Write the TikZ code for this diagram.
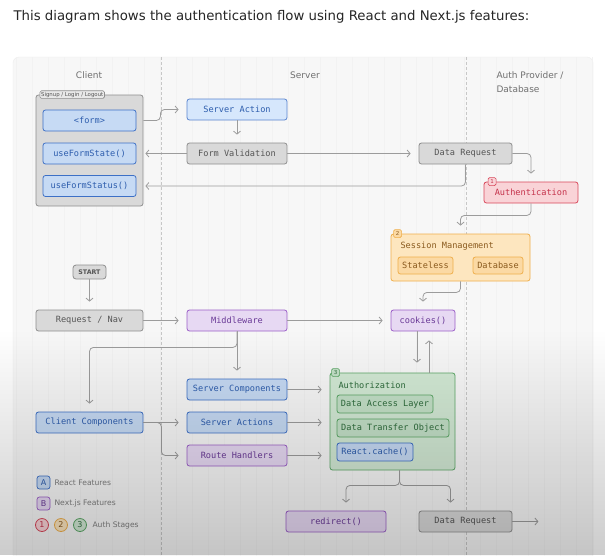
\documentclass[tikz,border=0pt]{standalone}
\usepackage{fontspec}
\setmainfont{DejaVu Sans}
\newfontfamily\codefont{DejaVu Sans Mono}
\usetikzlibrary{arrows.meta}
\usetikzlibrary{fadings}

\definecolor{lineg}{HTML}{9C9C9C}
\definecolor{grayfill}{HTML}{D9D9D9}
\definecolor{grayline}{HTML}{8E8E8E}
\definecolor{graytext}{HTML}{555555}
\definecolor{bluefill}{HTML}{C6DAF4}
\definecolor{bluelite}{HTML}{D6E7FC}
\definecolor{blueline}{HTML}{3D70C6}
\definecolor{bluetext}{HTML}{2D5DAD}
\definecolor{purpfill}{HTML}{E7D9F3}
\definecolor{purpline}{HTML}{9B5EC7}
\definecolor{purptext}{HTML}{6A3A97}
\definecolor{redfill}{HTML}{F9D3D7}
\definecolor{redline}{HTML}{D8485B}
\definecolor{redtext}{HTML}{C4314A}
\definecolor{orfill}{HTML}{FDE6BF}
\definecolor{orinner}{HTML}{FBD9A4}
\definecolor{orline}{HTML}{EFAF4C}
\definecolor{ortext}{HTML}{8A5A1E}
\definecolor{grfill}{HTML}{D2E9D4}
\definecolor{grinner}{HTML}{C3E0C7}
\definecolor{grline}{HTML}{5BA766}
\definecolor{grtext}{HTML}{2D6B3B}
\definecolor{headc}{HTML}{707070}

\tikzfading[name=fadedown, top color=transparent!100, bottom color=transparent!0]

\tikzset{
  box/.style={draw, rounded corners=2.5pt, line width=0.8pt, inner sep=0pt,
    minimum height=21pt, font=\codefont\fontsize{8.6}{10}\selectfont},
  graybox/.style={box, fill=grayfill, draw=grayline, text=graytext},
  bluebox/.style={box, fill=bluefill, draw=blueline, text=bluetext},
  litebox/.style={box, fill=bluelite, draw=blueline!85, text=bluetext},
  purpbox/.style={box, fill=purpfill, draw=purpline, text=purptext},
  redbox/.style={box, fill=redfill, draw=redline, text=redtext},
  orbox/.style={box, fill=orinner, draw=orline, text=ortext, minimum height=17pt},
  grbox/.style={box, fill=grinner, draw=grline, text=grtext, minimum height=18pt},
  badge/.style={draw, rounded corners=1.5pt, line width=0.7pt, inner sep=0pt,
    minimum size=8pt, font=\fontsize{5.5}{6}\selectfont},
  header/.style={text=headc, font=\fontsize{9}{11}\selectfont},
  legend/.style={anchor=west, text=headc!90, font=\fontsize{7.6}{9}\selectfont},
  conn/.style={draw=lineg, line width=0.8pt, rounded corners=4pt,
    -{Straight Barb[length=3pt,width=7pt]}, shorten >=8pt},
}

\begin{document}
\begin{tikzpicture}[x=1pt, y=-1pt]
        \useasboundingbox (0,0) rectangle (605,555);
        \fill[white] (0,0) rectangle (605,555);

        \node (title) [anchor=west, text=black!85, font=\fontsize{13.3}{15}\selectfont] at (10,17)
            {This diagram shows the authentication flow using React and Next.js features:};

        % panel with faint grid
        \begin{scope}
            \clip (0,0) rectangle (605,555);
            \draw[fill=black!3, draw=black!7, rounded corners=6pt] (13,57) rectangle (593,580);
            \clip (13,57) rectangle (593,555);
            \draw[black!5, line width=0.3pt, step=16] (13,57) grid (593,560);
            \draw[black!22, line width=0.7pt, dash pattern=on 3pt off 2pt] (161,57) -- (161,555);
            \draw[black!22, line width=0.7pt, dash pattern=on 3pt off 2pt] (466,57) -- (466,555);
        \end{scope}

        \node (hclient) [header] at (89,75) {Client};
        \node (hserver) [header] at (305,75) {Server};
        \node (hauth) [header, anchor=west] at (493,75) {Auth Provider /};
        \node (hdb) [header, anchor=west] at (493,89) {Database};

        % client group
        \node (group) [graybox, minimum width=107pt, minimum height=111pt] at (89.5,150.5) {};
        \node (tag) [draw=grayline, fill=grayfill!60, rounded corners=1.5pt, line width=0.6pt, inner sep=1.2pt,
            anchor=west, text=graytext, font=\fontsize{5.4}{6}\selectfont] at ([xshift=4pt]group.north west) {Signup / Login / Logout};
        \node (form) [bluebox, minimum width=93pt] at (89.5,120.5) {<form>};
        \node (fstate) [bluebox, minimum width=93pt] at (89.5,153.5) {useFormState()};
        \node (fstatus) [bluebox, minimum width=93pt] at (89.5,186) {useFormStatus()};

        % server, top
        \node (sact) [litebox, minimum width=100pt] at (237,109.5) {Server Action};
        \node (fval) [graybox, minimum width=100pt] at (237,153.5) {Form Validation};
        \node (dreq) [graybox, minimum width=93pt] at (465.5,153.5) {Data Request};

        % auth provider
        \node (authn) [redbox, minimum width=94pt] at (531,192.5) {Authentication};
        \node (b1) [badge, fill=redfill, draw=redline, text=redtext] at ([xshift=8.5pt]authn.north west) {1};

        \node (sess) [box, fill=orfill, draw=orline, minimum width=139pt, minimum height=47pt] at (460.5,257.5) {};
        \node (b2) [badge, fill=orinner, draw=orline, text=ortext] at ([xshift=7pt]sess.north west) {2};
        \node (sesst) [anchor=west, text=ortext, font=\codefont\fontsize{8.6}{10}\selectfont] at (397,246) {Session Management};
        \node (stateless) [orbox, minimum width=55pt] at (425.5,265.5) {Stateless};
        \node (sdb) [orbox, minimum width=50pt] at (498,265.5) {Database};

        \node (cookies) [purpbox, minimum width=64pt] at (423,320.5) {cookies()};

        % request flow
        \node (start) [graybox, minimum width=33pt, minimum height=14pt, rounded corners=3pt,
            font=\fontsize{6.3}{8}\selectfont\bfseries] at (89.5,272) {START};
        \node (reqnav) [graybox, minimum width=107pt] at (89.5,320.5) {Request / Nav};
        \node (mware) [purpbox, minimum width=100pt] at (237,320.5) {Middleware};

        \node (scomp) [bluebox, minimum width=100pt] at (237,389.5) {Server Components};
        \node (sacts) [bluebox, minimum width=100pt] at (237,422.5) {Server Actions};
        \node (rhand) [purpbox, minimum width=100pt] at (237,455.5) {Route Handlers};
        \node (ccomp) [bluebox, minimum width=107pt] at (89.5,422.5) {Client Components};

        % authorization
        \node (authz) [box, fill=grfill, draw=grline, minimum width=125pt, minimum height=97pt] at (392.5,421.5) {};
        \node (b3) [badge, fill=grinner, draw=grline, text=grtext] at ([xshift=6pt]authz.north west) {3};
        \node (authzt) [anchor=west, text=grtext, font=\codefont\fontsize{8.6}{10}\selectfont] at (335,385) {Authorization};
        \node (dal) [grbox, minimum width=96pt] at (385,404) {Data Access Layer};
        \node (dto) [grbox, minimum width=112pt] at (393,428) {Data Transfer Object};
        \node (rcache) [bluebox, minimum width=76pt, minimum height=18pt] at (375,452) {React.cache()};

        \node (redir) [purpbox, minimum width=100pt] at (336,521.5) {redirect()};
        \node (dreqb) [graybox, minimum width=93pt] at (465.5,521.5) {Data Request};

        % legend
        \node (la) [badge, minimum size=13pt, rounded corners=2.5pt, fill=bluefill, draw=blueline, text=bluetext,
            font=\fontsize{8}{9}\selectfont] at (43.5,482.5) {A};
        \node (lat) [legend] at (51,482.5) {React Features};
        \node (lb) [badge, minimum size=13pt, rounded corners=2.5pt, fill=purpfill, draw=purpline, text=purptext,
            font=\fontsize{8}{9}\selectfont] at (43.5,503.5) {B};
        \node (lbt) [legend] at (51,503.5) {Next.js Features};
        \node (l1) [circle, draw=redline, fill=redfill, line width=0.8pt, inner sep=0pt, minimum size=13pt,
            text=redtext, font=\fontsize{8}{9}\selectfont] at (42,525) {1};
        \node (l2) [circle, draw=orline, fill=orfill, line width=0.8pt, inner sep=0pt, minimum size=13pt,
            text=ortext, font=\fontsize{8}{9}\selectfont] at (61,525) {2};
        \node (l3) [circle, draw=grline, fill=grfill, line width=0.8pt, inner sep=0pt, minimum size=13pt,
            text=grtext, font=\fontsize{8}{9}\selectfont] at (80,525) {3};
        \node (lst) [legend] at (89,525) {Auth Stages};

        % connectors
        \draw[conn] (form -| group.east) -- ++(17,0) |- (sact.west);
        \draw[conn] (sact) -- (fval);
        \draw[conn, shorten >=2pt] (fval.west) -- (fstate -| group.east);
        \draw[conn] (fval) -- (dreq);
        \draw[conn, shorten >=2pt] (dreq.south) |- (fstatus -| group.east);
        \draw[conn] (dreq.east) -| (authn.north);
        \draw[conn] (authn.south) -- ++(0,12) -| (sess.north);
        \draw[conn] (sess.south) -- ++(0,11) -| (cookies.north);

        \draw[conn] (start) -- (reqnav);
        \draw[conn] (reqnav) -- (mware);
        \draw[conn] (mware) -- (cookies);
        \draw[conn, shorten >=10pt] ([xshift=-6pt]cookies.south) -- ([xshift=-6pt]cookies.south |- authz.north);
        \draw[conn, shorten >=9pt] ([xshift=6pt]cookies.south |- authz.north) -- ([xshift=6pt]cookies.south);

        \draw[conn] (mware.south) -- (scomp.north);
        \draw[conn] (mware.south) -- ++(0,16) -| (ccomp.north);
        \draw[conn] (ccomp) -- (sacts);
        \draw[conn] (ccomp.east) -- ++(18,0) |- (rhand.west);

        \draw[conn] (scomp.east) -- (scomp -| authz.west);
        \draw[conn] (sacts.east) -- (sacts -| authz.west);
        \draw[conn] (rhand.east) -- (rhand -| authz.west);

        \draw[conn] ([xshift=7pt]authz.south) -- ++(0,15) -| ([xshift=10pt]redir.north);
        \draw[conn] ([xshift=7pt]authz.south) -- ++(0,15) -| ([xshift=-15pt]dreqb.north);
        \draw[conn, shorten >=0pt] (dreqb.east) -- ++(26,0);

        % darker bottom of the screen capture
        \fill[black, fill opacity=0.2, path fading=fadedown] (0,330) rectangle (605,555);
\end{tikzpicture}
\end{document}
